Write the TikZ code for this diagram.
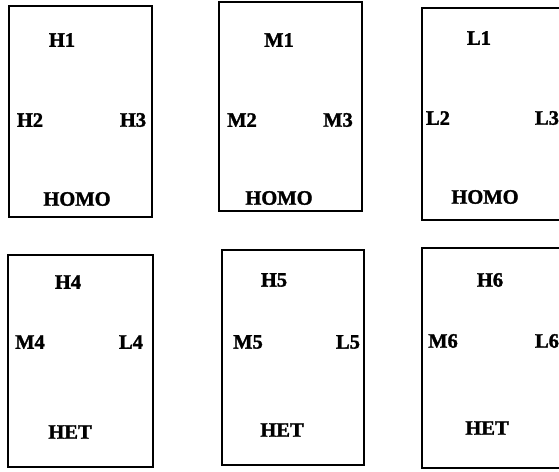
\documentclass[tikz,border=0pt]{standalone}
\usepackage{fontspec}
\setmainfont{Liberation Serif}
\newfontfamily\labfont{Liberation Serif Bold}[FakeBold=1.6]
\begin{document}
\begin{tikzpicture}[x=1pt,y=-1pt,
  panel/.style={draw=black, line width=2.6pt},
  lab/.style={font=\fontsize{20.5}{20.5}\labfont, inner sep=0pt, anchor=center}]
\useasboundingbox (0,0) rectangle (559,471);
% boxes
\draw[panel] (9,6) rectangle (152,217);
\draw[panel] (219,2) rectangle (362,211);
\draw[panel] (422,8) rectangle (566,220);
\draw[panel] (8,255) rectangle (153,467);
\draw[panel] (222,250) rectangle (364,465);
\draw[panel] (422,248) rectangle (567,468);
% top row
\node[lab] (h1) at (62,40) {H1};
\node[lab] (h2) at (30,120) {H2};
\node[lab] (h3) at (133,120) {H3};
\node[lab] (homo1) at (77,199) {HOMO};
\node[lab] (m1) at (279,40) {M1};
\node[lab] (m2) at (242,120) {M2};
\node[lab] (m3) at (338,120) {M3};
\node[lab] (homo2) at (279,198) {HOMO};
\node[lab] (l1) at (479,38) {L1};
\node[lab] (l2) at (438,118) {L2};
\node[lab] (l3) at (547,118) {L3};
\node[lab] (homo3) at (485,197) {HOMO};
% bottom row
\node[lab] (h4) at (68,282) {H4};
\node[lab] (m4) at (30,342) {M4};
\node[lab] (l4) at (131,342) {L4};
\node[lab] (het1) at (70,432) {HET};
\node[lab] (h5) at (274,280) {H5};
\node[lab] (m5) at (248,342) {M5};
\node[lab] (l5) at (348,342) {L5};
\node[lab] (het2) at (282,430) {HET};
\node[lab] (h6) at (490,280) {H6};
\node[lab] (m6) at (443,341) {M6};
\node[lab] (l6) at (547,341) {L6};
\node[lab] (het3) at (487,428) {HET};
\end{tikzpicture}
\end{document}
